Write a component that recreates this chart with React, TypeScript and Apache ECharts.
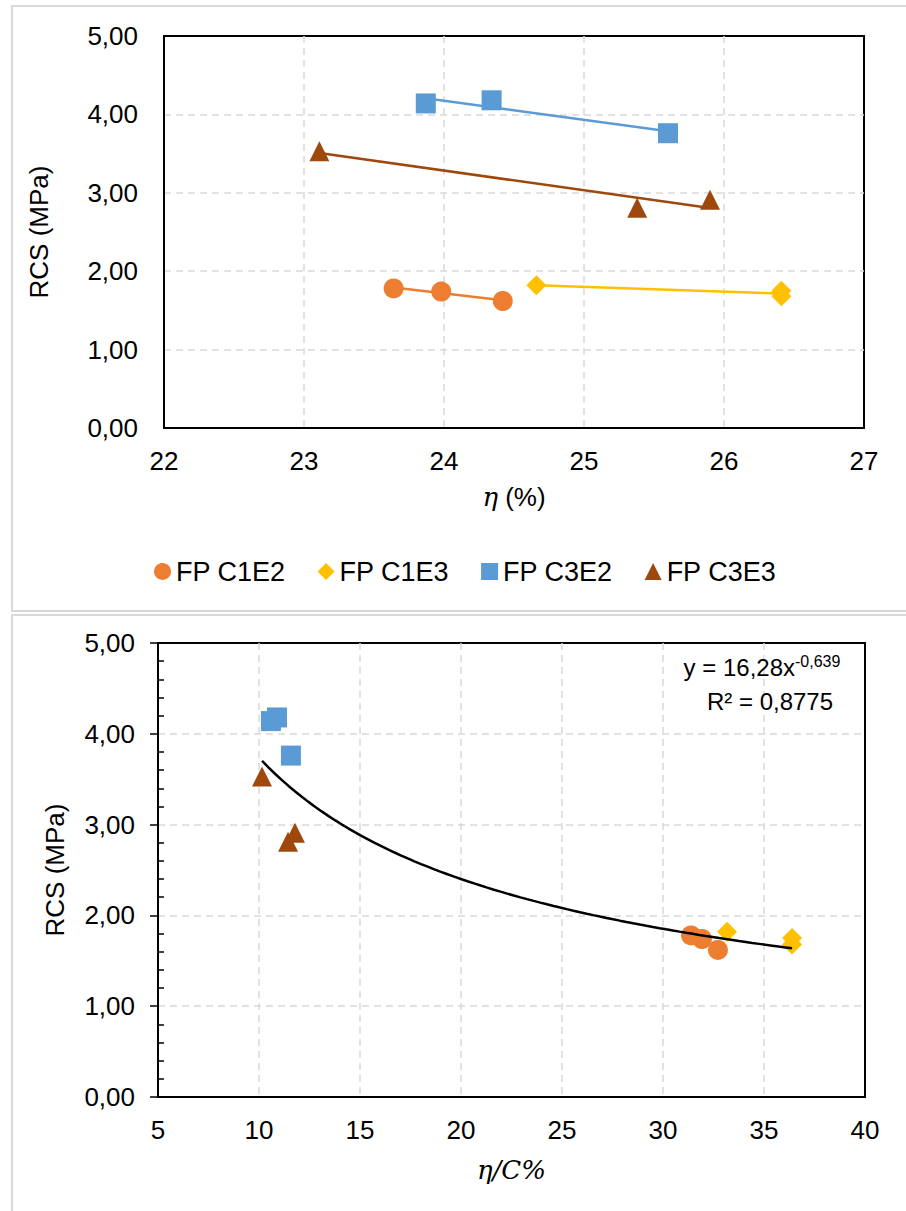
import React, { useEffect, useRef } from "react";
import * as echarts from "echarts";

// ---------- data ----------
const SERIES_NAMES = ["FP C1E2", "FP C1E3", "FP C3E2", "FP C3E3"];
const COLORS = ["#ED7D31", "#FFC000", "#5B9BD5", "#9E480E"];
const SYMBOLS = ["circle", "diamond", "rect", "triangle"];

// RCS (MPa) per series (same samples in both charts)
const RCS_C1E2 = [1.78, 1.74, 1.62];
const RCS_C1E3 = [1.82, 1.75, 1.68];
const RCS_C3E2 = [4.14, 4.18, 3.76];
const RCS_C3E3 = [3.53, 2.81, 2.91];

// Top chart: eta (%)
const ETA_C1E2 = [23.64, 23.98, 24.42];
const ETA_C1E3 = [24.66, 26.41, 26.41];
const ETA_C3E2 = [23.87, 24.34, 25.6];
const ETA_C3E3 = [23.11, 25.38, 25.9];

// Bottom chart: eta / C%
const ETAC_C1E2 = [31.39, 31.93, 32.72];
const ETAC_C1E3 = [33.17, 36.39, 36.39];
const ETAC_C3E2 = [10.59, 10.89, 11.58];
const ETAC_C3E3 = [10.15, 11.44, 11.78];

// Power trendline shown on the bottom chart: y = A * x^B
const POWER_A = 16.28;
const POWER_B = -0.639;
const EQ_TEXT = "y = 16,28x";
const EQ_EXP = "-0,639";
const R2_TEXT = "R² = 0,8775";

const TOP_X_TICKS = { min: 22, max: 27, interval: 1 };
const BOT_X_TICKS = { min: 5, max: 40, interval: 5 };
const Y_TICKS = { min: 0, max: 5, interval: 1 };

const RCS = [RCS_C1E2, RCS_C1E3, RCS_C3E2, RCS_C3E3];
const ETA = [ETA_C1E2, ETA_C1E3, ETA_C3E2, ETA_C3E3];
const ETAC = [ETAC_C1E2, ETAC_C1E3, ETAC_C3E2, ETAC_C3E3];

// ---------- helpers ----------
const zip = (xs: number[], ys: number[]) => xs.map((x, i) => [x, ys[i]]);

function linearTrend(xs: number[], ys: number[]) {
  const n = xs.length;
  const mx = xs.reduce((a, b) => a + b, 0) / n;
  const my = ys.reduce((a, b) => a + b, 0) / n;
  let sxy = 0;
  let sxx = 0;
  for (let i = 0; i < n; i++) {
    sxy += (xs[i] - mx) * (ys[i] - my);
    sxx += (xs[i] - mx) * (xs[i] - mx);
  }
  const slope = sxy / sxx;
  const x0 = Math.min(...xs);
  const x1 = Math.max(...xs);
  return [
    [x0, my + slope * (x0 - mx)],
    [x1, my + slope * (x1 - mx)],
  ];
}

function powerTrend(xs: number[]) {
  const x0 = Math.min(...xs);
  const x1 = Math.max(...xs);
  const pts: number[][] = [];
  const steps = 80;
  for (let i = 0; i <= steps; i++) {
    const x = x0 + ((x1 - x0) * i) / steps;
    pts.push([x, POWER_A * Math.pow(x, POWER_B)]);
  }
  return pts;
}

const SANS = "'Liberation Sans', Arial, sans-serif";
const SERIF = "'DejaVu Serif', 'Liberation Serif', serif";
const fmtY = (v: number) => v.toFixed(2).replace(".", ",");

const gridLine = {
  show: true,
  showMinLine: false,
  showMaxLine: false,
  lineStyle: { color: "#D9D9D9", width: 1.5, type: [7, 5] as number[] },
};
const labelStyle = { color: "#000", fontSize: 26, fontFamily: SANS };
const blackLine = { show: true, onZero: false, lineStyle: { color: "#000", width: 2 } };

export default function App() {
  const ref = useRef<HTMLDivElement>(null);

  useEffect(() => {
    if (!ref.current) return;
    const chart = echarts.init(ref.current, undefined, { renderer: "svg" });

    const series: any[] = [];
    // top chart trendlines
    for (let i = 0; i < 4; i++) {
      series.push({
        type: "line",
        name: SERIES_NAMES[i] + " trend",
        xAxisIndex: 0,
        yAxisIndex: 0,
        data: linearTrend(ETA[i], RCS[i]),
        symbol: "none",
        lineStyle: { color: COLORS[i], width: 2.5 },
        z: 2,
        silent: true,
      });
    }
    // top chart scatters
    for (let i = 0; i < 4; i++) {
      series.push({
        type: "scatter",
        name: SERIES_NAMES[i],
        xAxisIndex: 0,
        yAxisIndex: 0,
        data: zip(ETA[i], RCS[i]),
        symbol: SYMBOLS[i],
        symbolSize: 20,
        itemStyle: { color: COLORS[i], opacity: 1 },
        z: 3,
      });
    }
    // bottom chart scatters
    for (let i = 0; i < 4; i++) {
      series.push({
        type: "scatter",
        name: SERIES_NAMES[i],
        xAxisIndex: 1,
        yAxisIndex: 1,
        data: zip(ETAC[i], RCS[i]),
        symbol: SYMBOLS[i],
        symbolSize: 20,
        itemStyle: { color: COLORS[i], opacity: 1 },
        z: 3,
      });
    }
    // bottom power trendline
    const allEtac = ([] as number[]).concat(...ETAC);
    series.push({
      type: "line",
      name: "Power trend",
      xAxisIndex: 1,
      yAxisIndex: 1,
      data: powerTrend(allEtac),
      symbol: "none",
      smooth: false,
      lineStyle: { color: "#000", width: 2.5 },
      z: 4,
      silent: true,
    });

    chart.setOption({
      animation: false,
      backgroundColor: "#fff",
      grid: [
        { left: 164, top: 36, width: 700, height: 392, show: true, borderColor: "#000", borderWidth: 2, containLabel: false },
        { left: 158, top: 643, width: 707, height: 454, show: true, borderColor: "#000", borderWidth: 2, containLabel: false },
      ],
      xAxis: [
        {
          type: "value",
          gridIndex: 0,
          ...TOP_X_TICKS,
          axisLine: blackLine,
          axisTick: { show: false },
          axisLabel: { ...labelStyle, margin: 20 },
          splitLine: gridLine,
          name: "{i|η} (%)",
          nameLocation: "middle",
          nameGap: 56,
          nameTextStyle: {
            ...labelStyle,
            rich: { i: { fontFamily: SERIF, fontStyle: "italic", fontSize: 26, color: "#000" } },
          },
        },
        {
          type: "value",
          gridIndex: 1,
          ...BOT_X_TICKS,
          axisLine: blackLine,
          axisTick: { show: false },
          axisLabel: { ...labelStyle, margin: 20 },
          splitLine: gridLine,
          name: "η/C%",
          nameLocation: "middle",
          nameGap: 60,
          nameTextStyle: { color: "#000", fontSize: 26, fontFamily: SERIF, fontStyle: "italic" },
        },
      ],
      yAxis: [
        {
          type: "value",
          gridIndex: 0,
          ...Y_TICKS,
          axisLine: blackLine,
          axisTick: { show: false },
          axisLabel: { ...labelStyle, margin: 26, formatter: fmtY },
          splitLine: gridLine,
          name: "RCS (MPa)",
          nameLocation: "middle",
          nameGap: 112,
          nameTextStyle: labelStyle,
        },
        {
          type: "value",
          gridIndex: 1,
          ...Y_TICKS,
          axisLine: blackLine,
          axisTick: { show: true, length: 8, lineStyle: { color: "#000", width: 1.5 } },
          axisLabel: { ...labelStyle, margin: 23, formatter: fmtY },
          splitLine: gridLine,
          name: "RCS (MPa)",
          nameLocation: "middle",
          nameGap: 90,
          nameTextStyle: labelStyle,
        },
        {
          // overlay axis carrying only the inward minor ticks of the bottom chart
          type: "value",
          gridIndex: 1,
          position: "left",
          ...Y_TICKS,
          axisLine: { show: false },
          axisTick: { show: false, inside: true },
          minorTick: { show: true, splitNumber: 5, length: 6, lineStyle: { color: "#000", width: 1.5 } },
          axisLabel: { show: false },
          splitLine: { show: false },
          minorSplitLine: { show: false },
        },
      ],
      legend: {
        data: SERIES_NAMES,
        left: 154,
        top: 558,
        padding: 0,
        itemWidth: 17,
        itemHeight: 17,
        itemGap: 32,
        textStyle: { ...labelStyle, fontSize: 27 },
      },
      graphic: [
        {
          type: "rect",
          silent: true,
          z: -10,
          shape: { x: 12, y: 6, width: 900, height: 605 },
          style: { fill: "none", stroke: "#D9D9D9", lineWidth: 2 },
        },
        {
          type: "rect",
          silent: true,
          z: -10,
          shape: { x: 12, y: 615, width: 900, height: 610 },
          style: { fill: "none", stroke: "#D9D9D9", lineWidth: 2 },
        },
        {
          type: "text",
          x: 762,
          y: 653,
          z: 10,
          style: {
            text: `{a|${EQ_TEXT}}{s|${EQ_EXP}}`,
            align: "center",
            rich: {
              a: { fontSize: 24, fontFamily: SANS, fill: "#000", lineHeight: 28 },
              s: { fontSize: 16, fontFamily: SANS, fill: "#000", verticalAlign: "top", lineHeight: 28 },
            },
          },
        },
        {
          type: "text",
          x: 770,
          y: 689,
          z: 10,
          style: {
            text: R2_TEXT,
            align: "center",
            fontSize: 24,
            fontFamily: SANS,
            fill: "#000",
          },
        },
      ],
      series,
    });

    return () => chart.dispose();
  }, []);

  return (
    <div
      ref={ref}
      style={{ position: "absolute", left: 0, top: 0, width: 906, height: 1211 }}
    />
  );
}
